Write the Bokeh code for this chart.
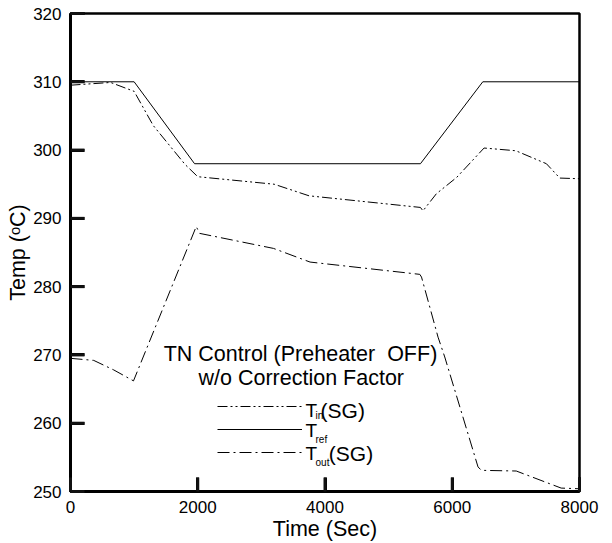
from bokeh.plotting import figure
from bokeh.models import Legend, LegendItem, Label, Range1d
from bokeh.embed import file_html
from bokeh.resources import INLINE

# ---- data ----
time_ref = [0, 1000, 1950, 5500, 6480, 8000]
temp_ref = [310, 310, 298, 298, 310, 310]

time_in = [0, 630, 1000, 1300, 1800, 2000, 3200, 3750, 5500, 5540, 5750, 6070, 6500, 7000, 7480, 7690, 8000]
temp_in = [309.5, 309.9, 308.6, 303.6, 297.9, 296.1, 295.0, 293.3, 291.6, 291.1, 293.6, 296.0, 300.3, 299.9, 298.0, 295.9, 295.8]

time_out = [0, 365, 680, 990, 1976, 2030, 3190, 3765, 5490, 5517, 5777, 5882, 6405, 6458, 7006, 7712, 8000]
temp_out = [269.5, 269.2, 267.8, 266.2, 288.8, 287.8, 285.6, 283.6, 281.8, 281.4, 272.6, 269.7, 253.6, 253.1, 253.0, 250.5, 250.4]

x_ticks = [0, 2000, 4000, 6000, 8000]
y_ticks = [250, 260, 270, 280, 290, 300, 310, 320]

title_lines = ["TN Control (Preheater\u00a0\u00a0OFF)", "w/o Correction Factor"]
FONT = "Liberation Sans"

X0, X1, Y0, Y1 = 0, 8000, 250, 320
W, H = 612, 543
ML, MR, MT, MB = 70, 33, 13, 51
px_x = (X1 - X0) / (W - ML - MR)   # data units per pixel
px_y = (Y1 - Y0) / (H - MT - MB)
TICK = 14

p = figure(width=W, height=H, output_backend="svg", toolbar_location=None,
           x_range=Range1d(X0, X1), y_range=Range1d(Y0, Y1),
           min_border_left=ML, min_border_right=MR, min_border_top=MT, min_border_bottom=MB)
p.outline_line_color = "black"
p.outline_line_width = 2.5
p.xgrid.visible = False
p.ygrid.visible = False

for ax in (p.xaxis[0], p.yaxis[0]):
    ax.axis_line_width = 3
    ax.axis_line_color = "black"
    ax.major_tick_line_color = "black"
    ax.major_tick_line_width = 3
    ax.major_tick_in = TICK
    ax.major_tick_out = 0
    ax.minor_tick_line_color = None
    ax.major_label_text_font = FONT
    ax.major_label_text_font_size = "17px"
    ax.major_label_text_color = "black"
    ax.major_label_standoff = 9
    ax.axis_label_text_font = FONT
    ax.axis_label_text_font_size = "21.5px"
    ax.axis_label_text_font_style = "normal"
    ax.axis_label_text_color = "black"

p.xaxis.ticker = x_ticks
p.yaxis.ticker = y_ticks
p.xaxis.axis_label = "Time (Sec)"
p.yaxis.axis_label = "Temp (ᵒC)"
p.xaxis.axis_label_standoff = 1
p.yaxis.axis_label_standoff = 0

r_in = p.line(time_in, temp_in, line_color="black", line_width=1, line_dash="10 3 2 3 2 3")
r_ref = p.line(time_ref, temp_ref, line_color="black", line_width=1)
r_out = p.line(time_out, temp_out, line_color="black", line_width=1, line_dash="12 4 2 4")

# inward major ticks, also drawn as glyphs on the top level (from the tick arrays)
p.segment(x0=x_ticks, x1=x_ticks, y0=[Y0] * len(x_ticks), y1=[Y0 + TICK * px_y] * len(x_ticks),
          line_color="#111111", line_width=3, level="overlay")
p.segment(x0=[X0] * len(y_ticks), x1=[X0 + TICK * px_x] * len(y_ticks), y0=y_ticks, y1=y_ticks,
          line_color="#111111", line_width=3, level="overlay")

legend = Legend(items=[LegendItem(label=" ", renderers=[r_in]),
                       LegendItem(label=" ", renderers=[r_ref]),
                       LegendItem(label=" ", renderers=[r_out])],
                location=(147, 29), glyph_width=85, glyph_height=20, label_height=20,
                label_width=0, label_standoff=0, spacing=3, padding=0, margin=0,
                border_line_color=None, background_fill_alpha=0,
                label_text_font_size="2px")
p.add_layout(legend)

UP = 0.7  # baseline correction (data units)

p.add_layout(Label(x=3615, y=269.5 + UP, text=title_lines[0], text_align="center", text_baseline="alphabetic",
                   text_font=FONT, text_font_size="21.5px", text_color="black"))
p.add_layout(Label(x=3627, y=265.9 + UP, text=title_lines[1], text_align="center", text_baseline="alphabetic",
                   text_font=FONT, text_font_size="21.5px", text_color="black"))

rows = [("in", "(SG)", 261.1, 260.4, 3930), ("ref", "", 258.2, 256.9, None), ("out", "(SG)", 254.8, 253.6, 4060)]
for sub, tail, yb, ys, xt in rows:
    p.add_layout(Label(x=3694, y=yb + UP, text="T", text_baseline="alphabetic", text_font=FONT,
                       text_font_size="19px", text_color="black"))
    p.add_layout(Label(x=3851, y=ys + UP, text=sub, text_baseline="alphabetic", text_font=FONT,
                       text_font_size="10px", text_color="black"))
    if tail:
        p.add_layout(Label(x=xt, y=yb + UP, text=tail, text_baseline="alphabetic", text_font=FONT,
                           text_font_size="21px", text_color="black"))

open("out.html", "w").write(file_html(p, INLINE))
